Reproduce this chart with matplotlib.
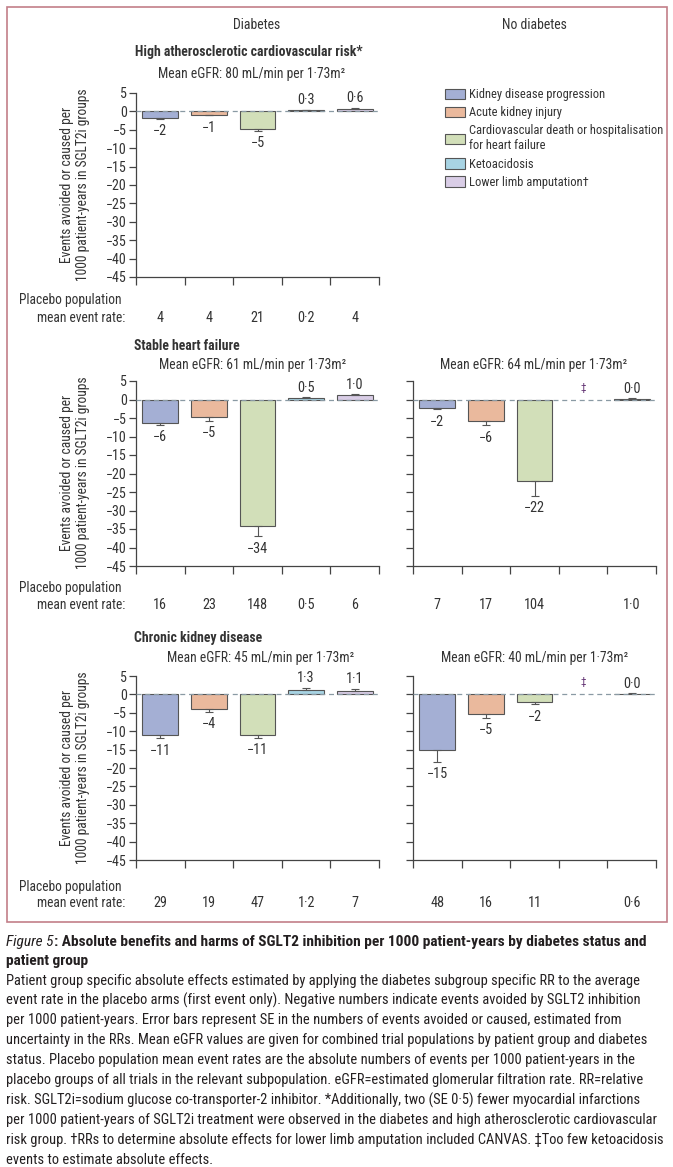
import numpy as np
import matplotlib
matplotlib.use("Agg")
import matplotlib.pyplot as plt
from matplotlib.patches import Patch, Rectangle
from matplotlib.transforms import blended_transform_factory

plt.rcParams['font.family'] = ['Roboto Condensed', 'Lato', 'DejaVu Sans']
plt.rcParams['axes.unicode_minus'] = True

# ---- data ----
categories = ['Kidney disease progression', 'Acute kidney injury',
              'Cardiovascular death or hospitalisation\nfor heart failure',
              'Ketoacidosis', 'Lower limb amputation\u2020']

asc_dm_vals = [-1.8, -0.9, -4.8, 0.3, 0.7]
asc_dm_err = [0.2, 0.2, 0.5, 0.1, 0.3]
asc_dm_labels = ['\u22122', '\u22121', '\u22125', '0\u00b73', '0\u00b76']
asc_dm_rates = ['4', '4', '21', '0\u00b72', '4']

shf_dm_vals = [-6.3, -4.7, -34.1, 0.4, 1.1]
shf_dm_err = [0.5, 1.0, 2.9, 0.2, 0.3]
shf_dm_labels = ['\u22126', '\u22125', '\u221234', '0\u00b75', '1\u00b70']
shf_dm_rates = ['16', '23', '148', '0\u00b75', '6']

shf_nodm_vals = [-2.2, -5.8, -22.1, np.nan, 0.05]
shf_nodm_err = [0.5, 1.1, 3.9, np.nan, 0.25]
shf_nodm_labels = ['\u22122', '\u22126', '\u221222', '\u2021', '0\u00b70']
shf_nodm_rates = ['7', '17', '104', '', '1\u00b70']

ckd_dm_vals = [-11.1, -4.1, -10.9, 1.3, 1.0]
ckd_dm_err = [0.8, 0.6, 0.9, 0.5, 0.5]
ckd_dm_labels = ['\u221211', '\u22124', '\u221211', '1\u00b73', '1\u00b71']
ckd_dm_rates = ['29', '19', '47', '1\u00b72', '7']

ckd_nodm_vals = [-15.2, -5.2, -2.2, np.nan, 0.05]
ckd_nodm_err = [3.1, 1.1, 0.5, np.nan, 0.2]
ckd_nodm_labels = ['\u221215', '\u22125', '\u22122', '\u2021', '0\u00b70']
ckd_nodm_rates = ['48', '16', '11', '', '0\u00b76']

caption_title = ('Absolute benefits and harms of SGLT2 inhibition per 1000 '
                 'patient-years by diabetes status and')
caption_lines = [
    'Patient group specific absolute effects estimated by applying the diabetes subgroup specific RR to the average',
    'event rate in the placebo arms (first event only). Negative numbers indicate events avoided by SGLT2 inhibition',
    'per 1000 patient-years. Error bars represent SE in the numbers of events avoided or caused, estimated from',
    'uncertainty in the RRs. Mean eGFR values are given for combined trial populations by patient group and diabetes',
    'status. Placebo population mean event rates are the absolute numbers of events per 1000 patient-years in the',
    'placebo groups of all trials in the relevant subpopulation. eGFR=estimated glomerular filtration rate. RR=relative',
    'risk. SGLT2i=sodium glucose co-transporter-2 inhibitor. *Additionally, two (SE 0\u00b75) fewer myocardial infarctions',
    'per 1000 patient-years of SGLT2i treatment were observed in the diabetes and high atherosclerotic cardiovascular',
    'risk group. \u2020RRs to determine absolute effects for lower limb amputation included CANVAS. \u2021Too few ketoacidosis',
    'events to estimate absolute effects.',
]

colors = ['#a4afd4', '#eab99d', '#d2dfb9', '#a8d4e4', '#d9cde6']
edge = '#555555'
txt = '#333333'
cap_col = '#231f20'

W, H = 673, 1167
fig = plt.figure(figsize=(W / 100, H / 100), dpi=100)
renderer = fig.canvas.get_renderer()


def fx(x):
    return x / W


def fy(y):
    return 1 - y / H


def fit_size(s, width_px, **kw):
    # font size that makes the string about width_px wide
    t = fig.text(0, 0, s, fontsize=10, **kw)
    w = t.get_window_extent(renderer).width
    t.remove()
    return 10 * width_px / w


fs_head = fit_size('Mean eGFR: 80 mL/min per 1\u00b773m\u00b2', 186)
fs_bold = fit_size('High atherosclerotic cardiovascular risk*', 228, fontweight='bold')
fs_col = fit_size('Diabetes', 47)
fs_place = fit_size('Placebo population', 103)
fs_ylab = fit_size('1000 patient-years in SGLT2i groups', 192)
fs_leg = fit_size('Cardiovascular death or hospitalisation', 192)
fs_cap = fit_size(caption_lines[0], 630)
fs_title = fit_size('Figure 5: ' + caption_title, 646, fontweight='semibold')
fs_num = fit_size('148', 21)
fs_tick = fit_size('\u221245', 21)


def panel(left, top, bottom, vals, errs, labels, show_y):
    ax = fig.add_axes([fx(left), fy(bottom), 243 / W, (bottom - top) / H])
    x = np.arange(len(vals)) + 0.5
    v = np.array(vals, dtype=float)
    e = np.array(errs, dtype=float)
    ax.bar(x, v, width=0.74, color=colors, edgecolor=edge, linewidth=0.8, zorder=2)
    lower = np.where(v < 0, e, 0)
    upper = np.where(v >= 0, e, 0)
    ax.errorbar(x, v, yerr=[lower, upper], fmt='none', ecolor=edge,
                elinewidth=0.8, capsize=3, capthick=0.8, zorder=3)
    ax.axhline(0, color='#8a9aa4', lw=0.9, ls=(0, (4, 3)), zorder=4)
    for xi, vi, ei, lab in zip(x, v, e, labels):
        if np.isnan(vi):
            ax.annotate(lab, (xi, 0), xytext=(0, 5), textcoords='offset points',
                        ha='center', va='bottom', fontsize=8, color='#6a3d7a')
        elif vi < 0:
            ax.annotate(lab, (xi, vi - ei), xytext=(0, -4), textcoords='offset points',
                        ha='center', va='top', fontsize=fs_num, color=txt)
        else:
            ax.annotate(lab, (xi, vi + ei), xytext=(0, 2), textcoords='offset points',
                        ha='center', va='bottom', fontsize=fs_num, color=txt)
    ax.set_xlim(0, 5)
    ax.set_ylim(-45, 5)
    ax.set_xticks(np.arange(6))
    ax.set_xticklabels([])
    ax.set_yticks(np.arange(-45, 6, 5))
    if not show_y:
        ax.set_yticklabels([])
    for s in ['top', 'right']:
        ax.spines[s].set_visible(False)
    for s in ['left', 'bottom']:
        ax.spines[s].set_color('#444444')
        ax.spines[s].set_linewidth(0.9)
    ax.tick_params(axis='y', length=5, width=0.9, color='#444444', labelsize=fs_tick,
                   labelcolor=txt, pad=1.5)
    ax.tick_params(axis='x', length=6, width=0.9, color='#444444')
    ax.set_facecolor('none')
    return ax, x


def rates_row(ax, x, rates, y):
    tr = blended_transform_factory(ax.transData, fig.transFigure)
    for xi, r in zip(x, rates):
        ax.text(xi, fy(y), r, transform=tr, ha='center', va='center',
                fontsize=fs_num, color=txt)


def ylabel(yc):
    fig.text(fx(75), fy(yc), 'Events avoided or caused per\n1000 patient-years in SGLT2i groups',
             rotation=90, ha='center', va='center', fontsize=fs_ylab, color=txt,
             linespacing=1.2)


def placebo_rows(y1, y2):
    fig.text(fx(19), fy(y1), 'Placebo population', ha='left', va='center',
             fontsize=fs_place, color=txt)
    fig.text(fx(125), fy(y2), 'mean event rate:', ha='right', va='center',
             fontsize=fs_place, color=txt)


def heading(x, y, s, ha='center', bold=False):
    fig.text(fx(x), fy(y), s, ha=ha, va='center', color=txt,
             fontsize=fs_bold if bold else fs_head,
             fontweight='bold' if bold else 'normal')


# frame
fig.patches.append(Rectangle((fx(6.5), fy(922)), (667 - 6.5) / W, (922 - 7) / H,
                             transform=fig.transFigure, fill=False,
                             edgecolor='#c27f89', linewidth=1.2))

# column headings
fig.text(fx(257), fy(25), 'Diabetes', ha='center', va='center', fontsize=fs_col, color=txt)
fig.text(fx(534), fy(25), 'No diabetes', ha='center', va='center', fontsize=fs_col, color=txt)

# high atherosclerotic cardiovascular risk
heading(249, 52, 'High atherosclerotic cardiovascular risk*', bold=True)
heading(252, 74, 'Mean eGFR: 80 mL/min per 1\u00b773m\u00b2')
ax1, x1 = panel(136, 93, 277, asc_dm_vals, asc_dm_err, asc_dm_labels, True)
rates_row(ax1, x1, asc_dm_rates, 318)
ylabel(185)
placebo_rows(300, 318)

# stable heart failure
heading(134, 346, 'Stable heart failure', ha='left', bold=True)
heading(253, 365, 'Mean eGFR: 61 mL/min per 1\u00b773m\u00b2')
heading(534, 365, 'Mean eGFR: 64 mL/min per 1\u00b773m\u00b2')
ax2, x2 = panel(136, 381, 566, shf_dm_vals, shf_dm_err, shf_dm_labels, True)
ax3, x3 = panel(413, 381, 566, shf_nodm_vals, shf_nodm_err, shf_nodm_labels, False)
rates_row(ax2, x2, shf_dm_rates, 605)
rates_row(ax3, x3, shf_nodm_rates, 605)
ylabel(473)
placebo_rows(588, 605)

# chronic kidney disease
heading(134, 638, 'Chronic kidney disease', ha='left', bold=True)
heading(261, 658, 'Mean eGFR: 45 mL/min per 1\u00b773m\u00b2')
heading(535, 658, 'Mean eGFR: 40 mL/min per 1\u00b773m\u00b2')
ax4, x4 = panel(136, 676, 860, ckd_dm_vals, ckd_dm_err, ckd_dm_labels, True)
ax5, x5 = panel(413, 676, 860, ckd_nodm_vals, ckd_nodm_err, ckd_nodm_labels, False)
rates_row(ax4, x4, ckd_dm_rates, 903)
rates_row(ax5, x5, ckd_nodm_rates, 903)
ylabel(768)
placebo_rows(887, 903)

# legend
handles = [Patch(facecolor=c, edgecolor=edge, linewidth=0.8) for c in colors]
fig.legend(handles, categories, loc='upper left', bbox_to_anchor=(fx(445), fy(88)),
           frameon=False, fontsize=fs_leg, handlelength=1.6, handleheight=0.9,
           handletextpad=0.35, labelspacing=0.42, borderpad=0, borderaxespad=0,
           labelcolor=txt)

# caption
t = fig.text(fx(6), fy(942), 'Figure 5', ha='left', va='center', fontsize=fs_title,
             fontstyle='italic', color=cap_col)
bb = t.get_window_extent(renderer)
fig.text(bb.x1 / W, fy(942), ': ' + caption_title, ha='left', va='center',
         fontsize=fs_title, fontweight='semibold', color=cap_col)
fig.text(fx(6), fy(961), 'patient group', ha='left', va='center', fontsize=fs_title,
         fontweight='semibold', color=cap_col)
for i, line in enumerate(caption_lines):
    fig.text(fx(6), fy(980.5 + i * 19.9), line, ha='left', va='center', fontsize=fs_cap,
             color=cap_col)

fig.savefig('out.png', dpi=100)
